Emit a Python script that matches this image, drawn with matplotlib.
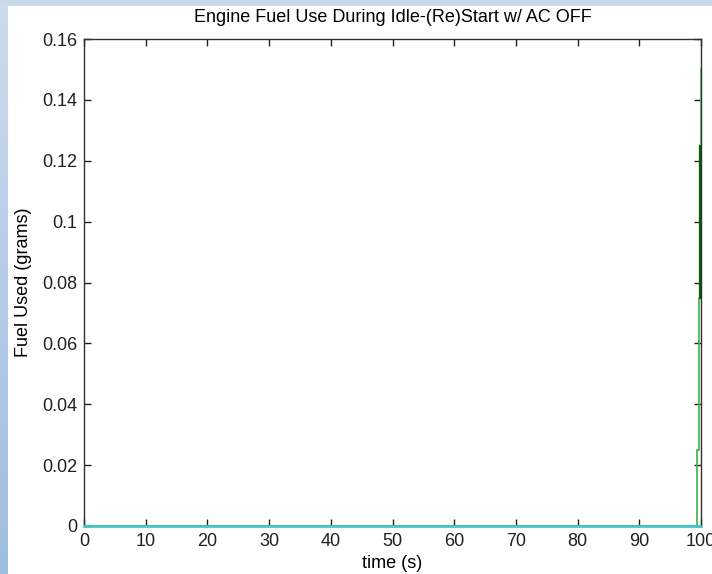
import matplotlib
matplotlib.use("Agg")
import matplotlib.pyplot as plt
import numpy as np

plt.rcParams['font.family'] = ['Liberation Sans', 'DejaVu Sans']

# cumulative fuel (steps near the end of the run)
t_fuel = [0, 99.4, 99.6, 99.8, 100]
fuel = [0, 0.025, 0.075, 0.125, 0.15]
# darker segment drawn over the 99.8 s step
t_dark = [99.8, 99.8]
fuel_dark = [0.075, 0.125]
# idle baseline
t_base = [0, 100]
fuel_base = [0, 0]

xticks = [0, 10, 20, 30, 40, 50, 60, 70, 80, 90, 100]
yticks = [0, 0.02, 0.04, 0.06, 0.08, 0.1, 0.12, 0.14, 0.16]
ylabels = ['0', '0.02', '0.04', '0.06', '0.08', '0.1', '0.12', '0.14', '0.16']

fig = plt.figure(figsize=(7.12, 5.74), dpi=100)
fig.patch.set_facecolor('white')

# slide background strips (left gradient, top band)
bg = fig.add_axes([0, 0, 8 / 712, 1])
grad = np.linspace(0, 1, 256).reshape(-1, 1)
top_c = np.array([0.80, 0.86, 0.93])
bot_c = np.array([0.62, 0.74, 0.87])
img = top_c * (1 - grad[..., None]) + bot_c * grad[..., None]
bg.imshow(img, aspect='auto', extent=[0, 1, 0, 1])
bg.axis('off')
band = fig.add_axes([0, 1 - 6 / 574, 1, 6 / 574])
band.set_facecolor('#c9d9ea')
band.set_xticks([])
band.set_yticks([])
for s in band.spines.values():
    s.set_visible(False)

ax = fig.add_axes([84 / 712, 1 - 526 / 574, 617 / 712, 487 / 574])
ax.step(t_fuel, fuel, where='post', color='#3cb043', lw=1.2, zorder=3)
ax.plot(t_dark, fuel_dark, color='#006400', lw=1.6, zorder=4)
ax.plot(t_base, fuel_base, color='#40c8c8', lw=1.8, zorder=5, clip_on=False)

ax.set_xlim(0, 100)
ax.set_ylim(0, 0.16)
ax.set_xticks(xticks)
ax.set_yticks(yticks)
ax.set_yticklabels(ylabels)
ax.tick_params(direction='in', length=5, width=1, top=True, right=True,
               labelsize=13, colors='#202020', pad=5)
for s in ax.spines.values():
    s.set_color('#303030')
    s.set_linewidth(1)

ax.set_title('Engine Fuel Use During Idle-(Re)Start w/ AC OFF', fontsize=13, pad=12)
ax.set_xlabel('time (s)', fontsize=13, labelpad=4)
ax.set_ylabel('Fuel Used (grams)', fontsize=13, labelpad=7)

fig.savefig('out.png', dpi=100)
